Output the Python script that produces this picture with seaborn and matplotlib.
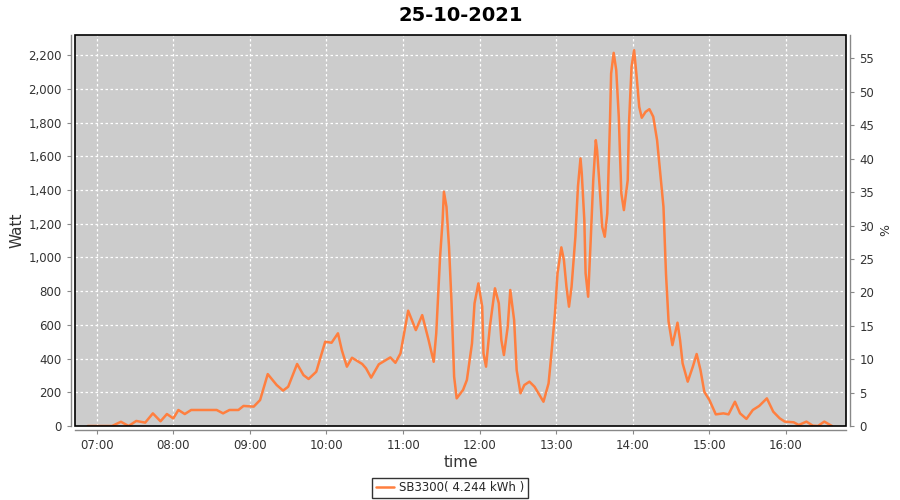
import pandas as pd
import matplotlib.pyplot as plt
import matplotlib.dates as mdates
import matplotlib.ticker as mticker
from matplotlib.patches import Rectangle
import seaborn as sns

day = "2021-10-25"
title = "25-10-2021"
series_name = "SB3300( 4.244 kWh )"

# time of day and power (Watt)
times = ["06:53", "07:12", "07:19", "07:25", "07:31", "07:38", "07:44", "07:50", "07:55", "08:00",
         "08:04", "08:09", "08:14", "08:34", "08:39", "08:44", "08:51", "08:55", "09:03", "09:08",
         "09:14", "09:21", "09:26", "09:30", "09:37", "09:42", "09:46", "09:52", "09:59", "10:04",
         "10:09", "10:12", "10:16", "10:20", "10:28", "10:31", "10:35", "10:41", "10:50", "10:54",
         "10:58", "11:04", "11:10", "11:15", "11:20", "11:24", "11:26", "11:29", "11:31", "11:32",
         "11:34", "11:36", "11:38", "11:40", "11:42", "11:47", "11:50", "11:54", "11:56", "11:59",
         "12:02", "12:03", "12:05", "12:08", "12:12", "12:15", "12:17", "12:19", "12:22", "12:24",
         "12:27", "12:29", "12:32", "12:35", "12:39", "12:43", "12:50", "12:54", "12:56", "12:59",
         "13:01", "13:04", "13:06", "13:08", "13:10", "13:12", "13:15", "13:17", "13:19", "13:20",
         "13:22", "13:23", "13:25", "13:27", "13:29", "13:31", "13:32", "13:34", "13:36", "13:38",
         "13:40", "13:42", "13:43", "13:45", "13:47", "13:49", "13:50", "13:51", "13:53", "13:56",
         "13:57", "13:59", "14:01", "14:03", "14:05", "14:07", "14:10", "14:13", "14:16", "14:19",
         "14:21", "14:24", "14:26", "14:28", "14:31", "14:35", "14:37", "14:39", "14:43", "14:47",
         "14:50", "14:53", "14:56", "15:00", "15:05", "15:11", "15:15", "15:20", "15:24", "15:29",
         "15:34", "15:39", "15:45", "15:50", "15:55", "15:59", "16:06", "16:10", "16:16", "16:21",
         "16:25", "16:30", "16:36"]
watts = [0, 0, 25, 0, 30, 20, 75, 28, 71, 45,
         95, 71, 95, 95, 75, 95, 95, 119, 115, 154,
         308, 243, 210, 233, 368, 302, 279, 322, 500, 494,
         550, 451, 352, 405, 368, 342, 287, 366, 407, 375,
         431, 684, 569, 658, 510, 381, 550, 1004, 1222, 1390,
         1301, 1063, 728, 293, 164, 214, 273, 490, 728, 846,
         708, 431, 352, 589, 817, 728, 510, 421, 589, 807,
         629, 332, 194, 243, 263, 233, 144, 253, 411, 668,
         906, 1060, 985, 826, 708, 826, 1123, 1420, 1588, 1499,
         1222, 906, 767, 1103, 1459, 1696, 1637, 1420, 1182, 1123,
         1261, 1775, 2091, 2214, 2112, 1835, 1597, 1380, 1281, 1459,
         1795, 2131, 2230, 2072, 1894, 1829, 1864, 1880, 1835, 1696,
         1538, 1301, 900, 620, 480, 613, 510, 372, 263, 352,
         427, 332, 203, 154, 69, 75, 69, 144, 75, 42,
         95, 119, 164, 85, 46, 26, 22, 6, 26, 2,
         0, 26, 0]

watt_ticks = list(range(0, 2201, 200))
pct_ticks = list(range(0, 56, 5))
watt_max = 2320
watt_per_pct = 39.65

df = pd.DataFrame({"time": pd.to_datetime([f"{day} {t}" for t in times]), "Watt": watts})

sns.set_style("ticks")
plt.rcParams["font.family"] = ["DejaVu Sans"]

fig = plt.figure(figsize=(9, 5), dpi=100)
ax = fig.add_axes([75 / 900, 74 / 500, 771 / 900, 391 / 500])
ax.set_facecolor("#cccccc")

sns.lineplot(data=df, x="time", y="Watt", ax=ax, color="#ff7f3f", linewidth=1.8, label=series_name)

ax.set_xlim(pd.Timestamp(f"{day} 06:43"), pd.Timestamp(f"{day} 16:47"))
ax.set_ylim(0, watt_max)
ax.set_yticks(watt_ticks)
ax.yaxis.set_major_formatter(mticker.FuncFormatter(lambda v, p: f"{int(v):,}"))
ax.xaxis.set_major_locator(mdates.HourLocator())
ax.xaxis.set_major_formatter(mdates.DateFormatter("%H:%M"))

ax.grid(True, color="white", linestyle=(0, (2, 2)), linewidth=0.9)
ax.set_axisbelow(True)
ax.set_xlabel("time", fontsize=11, color="#333333", labelpad=2)
ax.set_ylabel("Watt", fontsize=11, color="#333333", labelpad=3)

# twin axis with percentage
ax2 = ax.twinx()
ax2.set_ylim(0, watt_max / watt_per_pct)
ax2.set_yticks(pct_ticks)
ax2.set_ylabel("%", fontsize=9, color="#333333")
ax2.grid(False)

for a in (ax, ax2):
    a.tick_params(direction="out", length=3, width=0.8, color="#888888",
                  labelsize=8.5, labelcolor="#333333")
    for s in a.spines.values():
        s.set_visible(False)
ax.spines["left"].set_visible(True)
ax.spines["bottom"].set_visible(True)
ax2.spines["right"].set_visible(True)
for s in (ax.spines["left"], ax.spines["bottom"], ax2.spines["right"]):
    s.set_position(("outward", 3))
    s.set_color("#888888")
    s.set_linewidth(1)

# plot outline
ax.add_patch(Rectangle((0, 0), 1, 1, transform=ax.transAxes, fill=False,
                       edgecolor="black", linewidth=1.2, zorder=5, clip_on=False))

ax.set_title(title, fontsize=14, fontweight="bold", color="black", pad=10)

handles, labels = ax.get_legend_handles_labels()
ax.get_legend().remove()
leg = fig.legend(handles, labels, loc="center", bbox_to_anchor=(0.5, 0.024),
                 fontsize=8.5, frameon=True, fancybox=False, edgecolor="black",
                 borderpad=0.3, handlelength=1.6, handletextpad=0.4)
leg.get_frame().set_linewidth(1)

fig.savefig("out.png", dpi=100)
